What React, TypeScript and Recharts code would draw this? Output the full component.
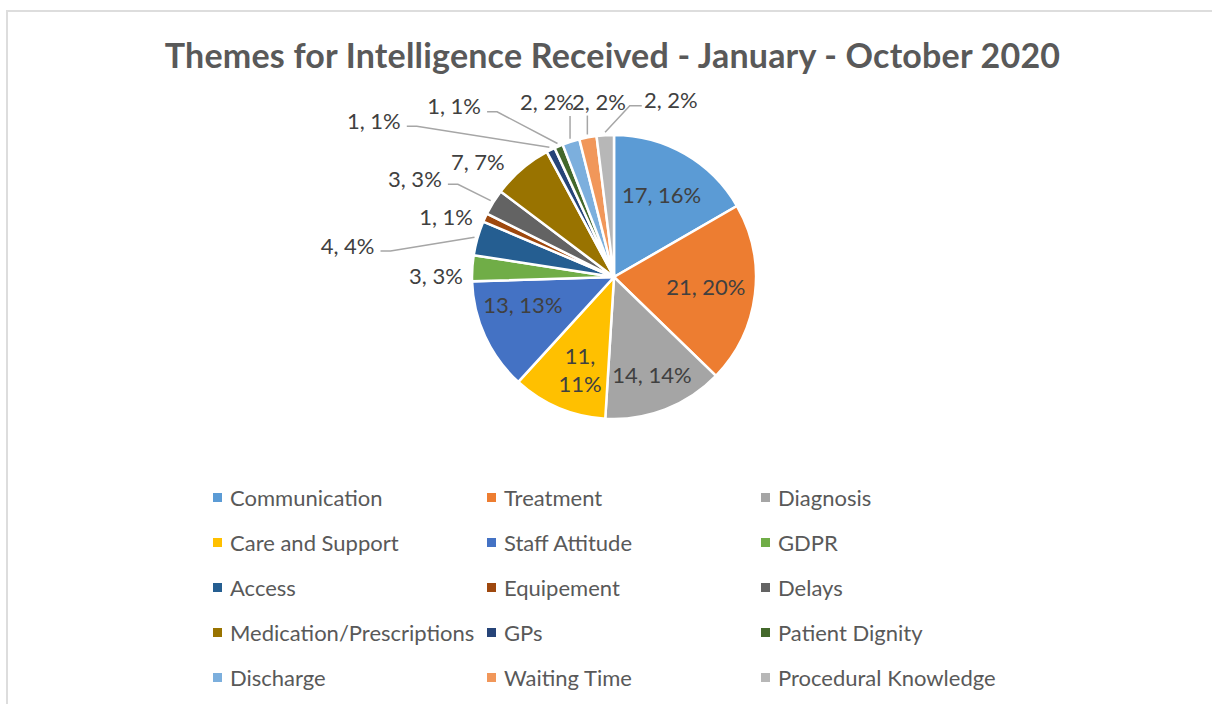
import React from 'react';
import { PieChart, Pie, Cell, Legend } from 'recharts';

const themes = [
  'Communication', 'Treatment', 'Diagnosis', 'Care and Support', 'Staff Attitude',
  'GDPR', 'Access', 'Equipement', 'Delays', 'Medication/Prescriptions',
  'GPs', 'Patient Dignity', 'Discharge', 'Waiting Time', 'Procedural Knowledge',
];
const counts = [17, 21, 14, 11, 13, 3, 4, 1, 3, 7, 1, 1, 2, 2, 2];
const colors = [
  '#5B9BD5', '#ED7D31', '#A5A5A5', '#FFC000', '#4472C4',
  '#70AD47', '#255E91', '#9E480E', '#636363', '#997300',
  '#264478', '#43682B', '#7CAFDD', '#F1975A', '#B7B7B7',
];

// percentages rounded the Excel way (largest remainder, sums to 100)
function shares(values: number[]) {
  const total = values.reduce((a, b) => a + b, 0);
  const raw = values.map((v) => (v / total) * 100);
  const out = raw.map(Math.floor);
  let left = 100 - out.reduce((a, b) => a + b, 0);
  const order = raw.map((r, i) => [r - Math.floor(r), i]).sort((a, b) => b[0] - a[0]);
  for (let k = 0; left > 0; k++, left--) out[order[k][1]] += 1;
  return out;
}
const pct = shares(counts);

const data = themes.map((name, i) => ({ name, value: counts[i] }));

// where each data label sits: inside (fraction of radius) or outside (polar offset + leader style)
type Place = { dist: number; shift: number; inside?: boolean; wrap?: boolean; line?: 'side' | 'up' | 'rise' };
const placement: Place[] = [
  { inside: true, dist: 0.67, shift: 0 },
  { inside: true, dist: 0.65, shift: -1 },
  { inside: true, dist: 0.74, shift: 0 },
  { inside: true, dist: 0.7, shift: -3, wrap: true },
  { inside: true, dist: 0.67, shift: 8 },
  { dist: 1.254, shift: -2.9 },
  { dist: 1.89, shift: -9.05, line: 'side' },
  { dist: 1.256, shift: -5 },
  { dist: 1.565, shift: -5.4, line: 'side' },
  { dist: 1.26, shift: -9 },
  { dist: 2.02, shift: -30.4, line: 'side' },
  { dist: 1.65, shift: -20.1, line: 'side' },
  { dist: 1.32, shift: -3.3, line: 'up' },
  { dist: 1.24, shift: 5.7, line: 'up' },
  { dist: 1.31, shift: 21.3, line: 'rise' },
];

const FONT = 'Lato, "Open Sans", sans-serif';
const RAD = Math.PI / 180;

function renderLabel(props: any) {
  const { cx, cy, midAngle, outerRadius, index } = props;
  const place = placement[index];
  const clock = 90 - midAngle;
  const at = (deg: number, d: number) => ({
    x: cx + d * Math.sin(deg * RAD),
    y: cy - d * Math.cos(deg * RAD),
  });
  const p = at(clock + place.shift, outerRadius * place.dist);
  const txt = { fill: '#404040', fontSize: 22, fontFamily: FONT, textAnchor: 'middle' as const };

  if (place.inside) {
    if (place.wrap) {
      return (
        <text {...txt} x={p.x} y={p.y}>
          <tspan x={p.x} dy={-6}>{`${counts[index]},`}</tspan>
          <tspan x={p.x} dy={28}>{`${pct[index]}%`}</tspan>
        </text>
      );
    }
    return <text {...txt} x={p.x} y={p.y} dominantBaseline="central">{`${counts[index]}, ${pct[index]}%`}</text>;
  }

  const edge = at(clock, outerRadius + 3);
  let d = '';
  if (place.line === 'side') {
    const sx = p.x + 33;
    d = `M${sx},${p.y + 6} H${sx + 10} L${edge.x},${edge.y}`;
  } else if (place.line === 'up') {
    d = `M${edge.x},${edge.y} V${p.y + 14}`;
  } else if (place.line === 'rise') {
    d = `M${edge.x},${edge.y} L${p.x - 41},${p.y + 6} H${p.x - 29}`;
  }
  return (
    <g>
      {d && <path d={d} stroke="#A6A6A6" strokeWidth={1.5} fill="none" />}
      <text {...txt} x={p.x} y={p.y} dominantBaseline="central">{`${counts[index]}, ${pct[index]}%`}</text>
    </g>
  );
}

function LegendGrid() {
  return (
    <div style={{ display: 'grid', gridTemplateColumns: 'repeat(3, 274px)', gridAutoRows: '45px' }}>
      {themes.map((name, i) => (
        <div key={name} style={{ display: 'flex', alignItems: 'center' }}>
          <span style={{ width: 9, height: 9, background: colors[i], marginRight: 8, flexShrink: 0 }} />
          <span style={{ fontFamily: FONT, fontSize: 22, color: '#595959', whiteSpace: 'nowrap' }}>{name}</span>
        </div>
      ))}
    </div>
  );
}

export default function App() {
  return (
    <div style={{ position: 'absolute', left: 0, top: 0, width: 1212, height: 704, overflow: 'hidden', background: '#fff' }}>
      <div style={{ position: 'absolute', left: 6, top: 10, width: 1300, height: 800, border: '2px solid #DDDDDD' }} />
      <div style={{
        position: 'absolute', left: 0, top: 34, width: 1225, textAlign: 'center',
        fontFamily: FONT, fontWeight: 700, fontSize: 34, letterSpacing: 0.2, color: '#595959',
      }}>
        Themes for Intelligence Received - January - October 2020
      </div>
      <div style={{ position: 'absolute', left: 0, top: 0 }}>
        <PieChart width={1212} height={704} margin={{ top: 0, right: 0, bottom: 0, left: 0 }}>
          <Pie data={data} dataKey="value" nameKey="name" cx={614} cy={277} outerRadius={142}
            startAngle={90} endAngle={-270} stroke="#fff" strokeWidth={2.5}
            label={renderLabel} labelLine={false} isAnimationActive={false}>
            {data.map((entry, i) => (
              <Cell key={`cell-${entry.name}`} fill={colors[i]} />
            ))}
          </Pie>
          <Legend content={() => <LegendGrid />}
            wrapperStyle={{ left: 213, top: 475, width: 900, height: 225 }} />
        </PieChart>
      </div>
    </div>
  );
}
